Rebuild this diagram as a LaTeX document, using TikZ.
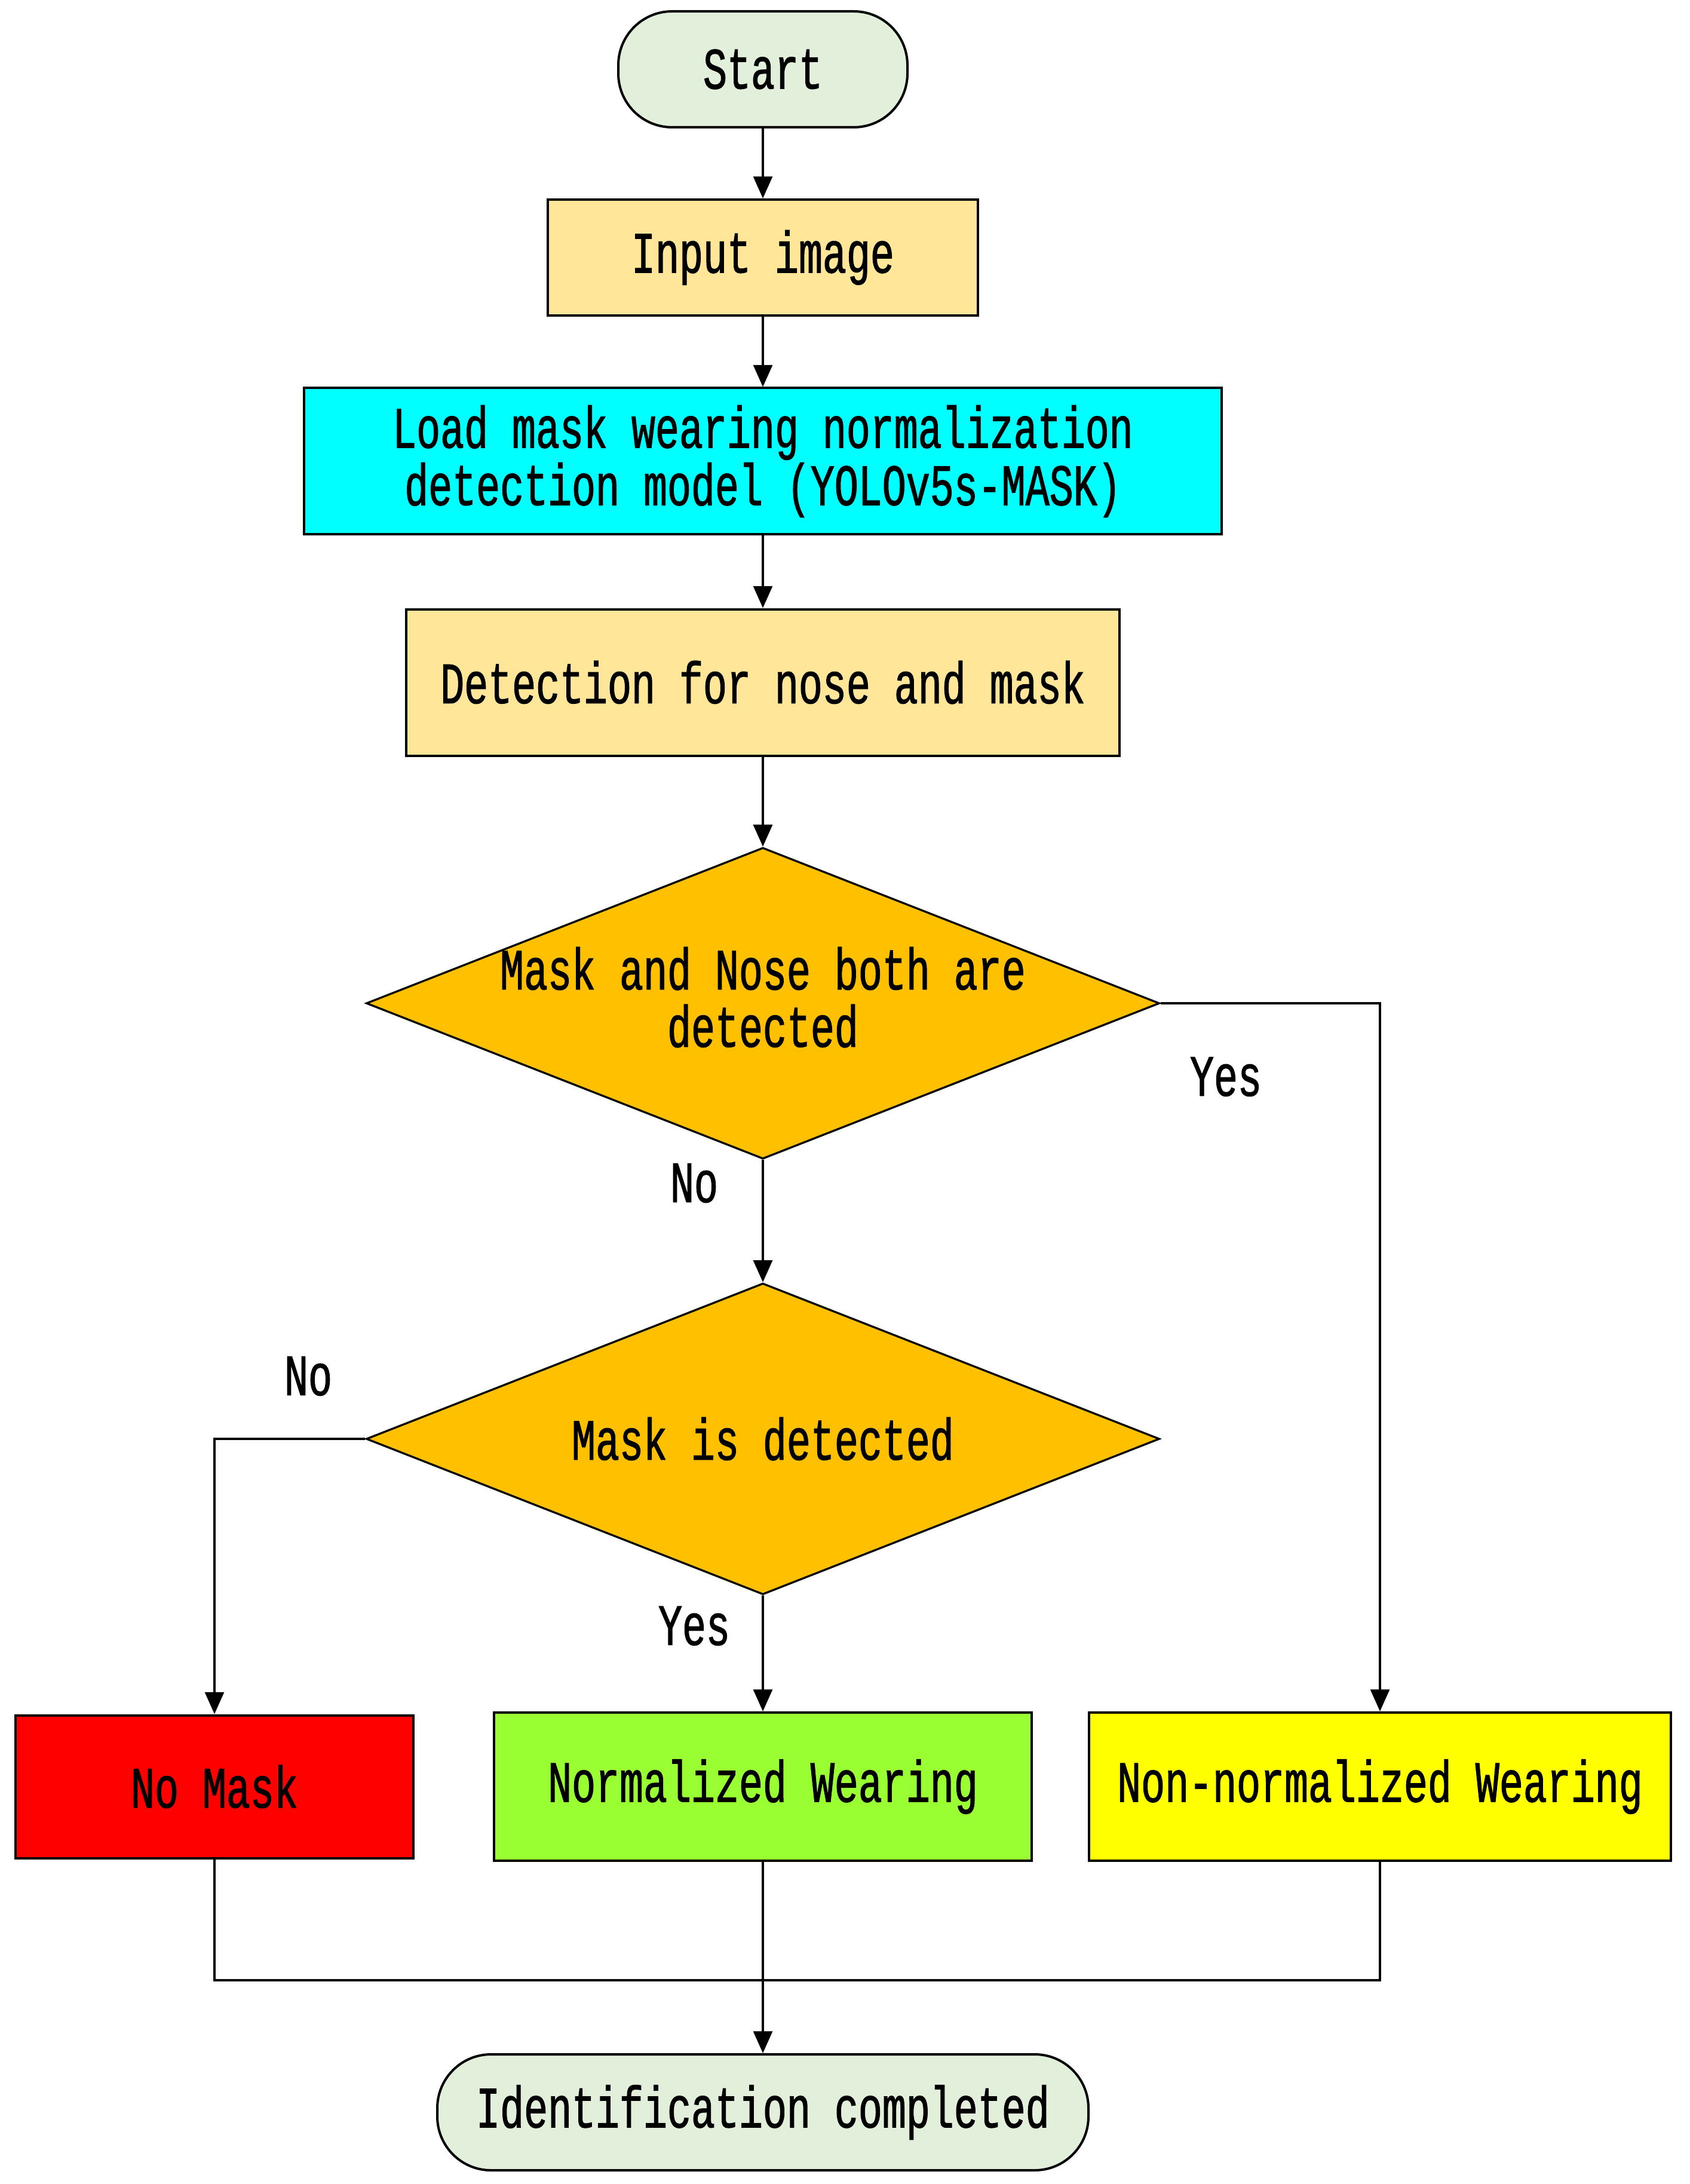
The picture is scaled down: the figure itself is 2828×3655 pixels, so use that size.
\documentclass[tikz,border=0pt]{standalone}
\usepackage{fontspec}
\setmainfont{Liberation Mono}[FakeStretch=0.68,FakeBold=1.2]
\usetikzlibrary{arrows.meta,shapes.geometric}
\definecolor{termfill}{HTML}{E2EFDA}
\definecolor{stepfill}{HTML}{FFE699}
\definecolor{loadfill}{HTML}{00FFFF}
\definecolor{decfill}{HTML}{FFC000}
\definecolor{redfill}{HTML}{FF0000}
\definecolor{greenfill}{HTML}{99FF33}
\definecolor{yellowfill}{HTML}{FFFF00}
\begin{document}
\begin{tikzpicture}[x=0.3pt,y=-0.3pt,
  every node/.style={font=\fontsize{29.4}{28.8}\selectfont, align=center, inner sep=0pt},
  term/.style={draw=black, line width=1.2pt, fill=termfill, rounded corners=27pt, minimum height=58.2pt},
  stepbox/.style={draw=black, line width=1.2pt, rectangle},
  decision/.style={draw=black, line width=1pt, fill=decfill, diamond, aspect=2.55, minimum width=398.4pt, minimum height=156.3pt},
  conn/.style={line width=1.2pt, draw=black},
  arr/.style={conn, -{Triangle[length=11pt, width=9.5pt]}},
  lbl/.style={}]
\useasboundingbox (0,0) rectangle (2828,3655);

\node[term, minimum width=145.2pt] (start) at (1277,116) {Start};
\node[stepbox, fill=stepfill, minimum width=216pt, minimum height=58.2pt] (input) at (1277,431) {Input image};
\node[stepbox, fill=loadfill, minimum width=460.8pt, minimum height=73.5pt] (load) at (1277,772) {Load mask wearing normalization\\detection model (YOLOv5s-MASK)};
\node[stepbox, fill=stepfill, minimum width=358.2pt, minimum height=73.5pt] (detect) at (1277,1142) {Detection for nose and mask};
\node[decision] (d1) at (1277,1679) {};
\node (d1text) at (1277,1669) {Mask and Nose both are\\detected};
\node[decision] (d2) at (1277,2408) {Mask is detected};
\node[stepbox, fill=redfill, minimum width=199.8pt, minimum height=71.7pt] (nomask) at (359,2990) {No Mask};
\node[stepbox, fill=greenfill, minimum width=270pt, minimum height=74.4pt] (norm) at (1277,2990) {Normalized Wearing};
\node[stepbox, fill=yellowfill, minimum width=292.2pt, minimum height=74.4pt] (nonnorm) at (2310,2990) {Non-normalized Wearing};
\node[term, minimum width=327pt] (end) at (1277,3535) {Identification completed};

\coordinate (merge) at (1277,3314);

\draw[arr] (start) -- (input);
\draw[arr] (input) -- (load);
\draw[arr] (load) -- (detect);
\draw[arr] (detect) -- (d1);
\draw[arr] (d1) -- (d2);
\draw[arr] (d1.east) -| (nonnorm.north);
\draw[arr] (d2.west) -| (nomask.north);
\draw[arr] (d2) -- (norm);
\draw[conn] (nomask.south) |- (merge) -| (nonnorm.south);
\draw[arr] (norm) -- (end);

\node[lbl] (yes1) at (2052,1802) {Yes};
\node[lbl] (no1) at (1162,1980) {No};
\node[lbl] (no2) at (516,2303) {No};
\node[lbl] (yes2) at (1162,2721) {Yes};
\end{tikzpicture}
\end{document}
